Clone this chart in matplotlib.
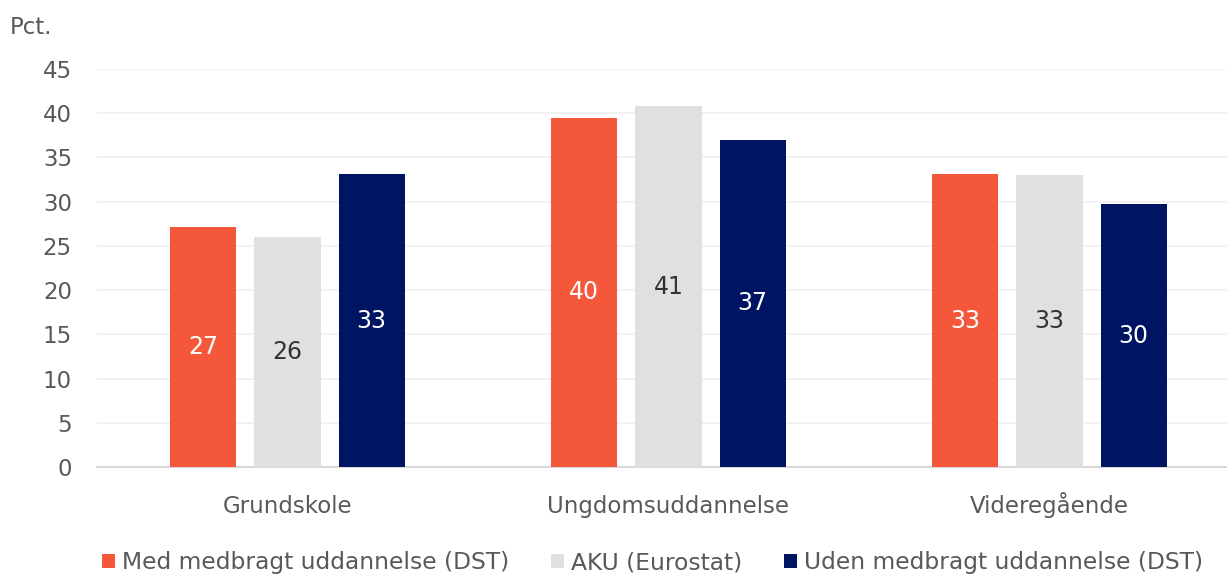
import numpy as np
import matplotlib.pyplot as plt
from matplotlib.patches import Patch

plt.rcParams['font.family'] = ['DejaVu Sans']

# data
categories = ["Grundskole", "Ungdomsuddannelse", "Videregående"]
series_names = ["Med medbragt uddannelse (DST)", "AKU (Eurostat)", "Uden medbragt uddannelse (DST)"]
med_dst = [27.1, 39.5, 33.1]
aku = [26.0, 40.8, 33.0]
uden_dst = [33.1, 37.0, 29.7]
yticks = [0, 5, 10, 15, 20, 25, 30, 35, 40, 45]

colors = ["#F5573B", "#E0E0E0", "#001464"]
label_colors = ["white", "#333333", "white"]
text_grey = "#595959"

fig = plt.figure(figsize=(12.27, 5.76), dpi=100)
ax = fig.add_axes([97 / 1227, 1 - 467 / 576, 1130 / 1227, 398 / 576])

x = np.arange(len(categories))
width = 0.174
pitch = 0.221
for k, (vals, col, lc) in enumerate(zip([med_dst, aku, uden_dst], colors, label_colors)):
    pos = x + (k - 1) * pitch
    bars = ax.bar(pos, vals, width=width, color=col, zorder=3)
    for b, v in zip(bars, vals):
        ax.text(b.get_x() + b.get_width() / 2, v / 2, f"{v:.0f}",
                ha='center', va='center', fontsize=17, color=lc, zorder=4)

ax.set_ylim(0, 45)
ax.set_xlim(-0.5, 2.466)
ax.set_yticks(yticks)
ax.set_xticks(x)
ax.set_xticklabels(categories)
ax.tick_params(axis='both', length=0, labelsize=16.5, colors=text_grey)
ax.tick_params(axis='x', pad=33)
ax.tick_params(axis='y', pad=18)
for lab in ax.get_xticklabels():
    lab.set_va('baseline')
ax.grid(axis='y', color="#F0F0F0", linewidth=1.2, zorder=0)
for s in ['top', 'right', 'left']:
    ax.spines[s].set_visible(False)
ax.spines['bottom'].set_color("#D9D9D9")
ax.spines['bottom'].set_linewidth(1.5)

fig.text(10 / 1227, 1 - 27 / 576, "Pct.", fontsize=16.5, color=text_grey, va='center', ha='left')

handles = [Patch(facecolor=c, edgecolor='none') for c in colors]
fig.legend(handles, series_names, loc='center', bbox_to_anchor=(0.532, 1 - 563 / 576),
           ncol=3, frameon=False, fontsize=16.8, handlelength=0.55, handleheight=0.55,
           handletextpad=0.3, columnspacing=1.8, labelcolor=text_grey)

fig.savefig("out.png", dpi=100)
